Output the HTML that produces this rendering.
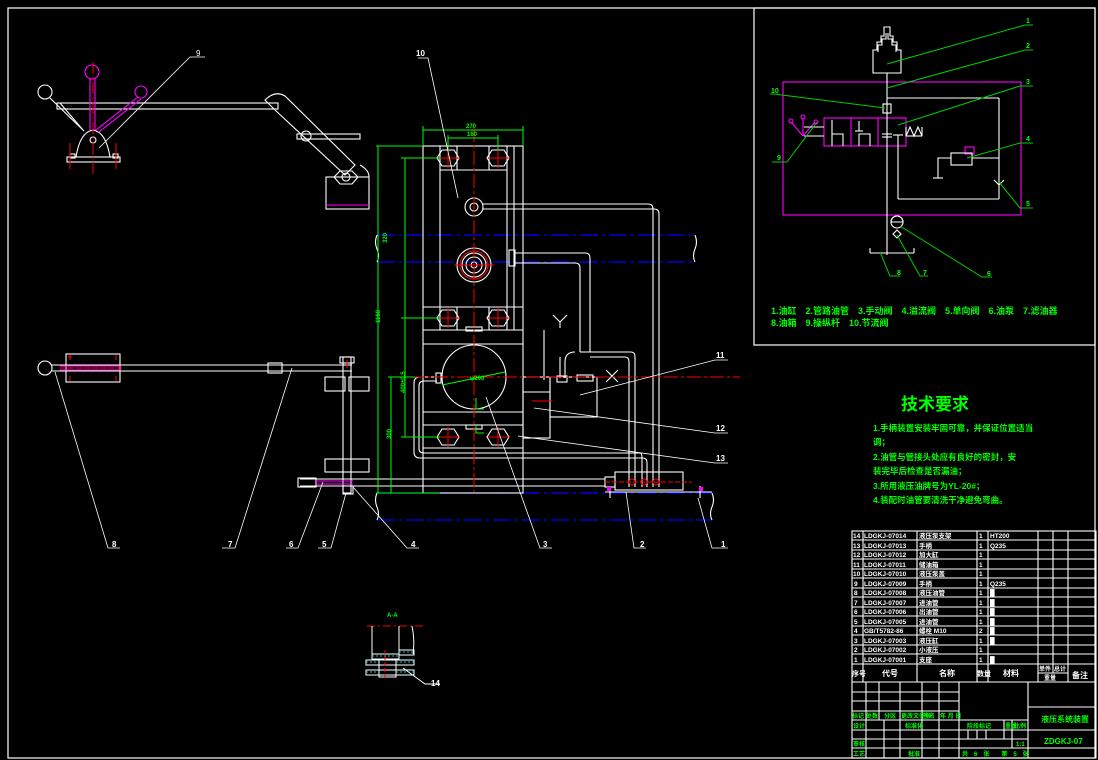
<!DOCTYPE html>
<html><head><meta charset="utf-8"><style>
html,body{margin:0;padding:0;background:#000;}
svg{display:block;}
text{font-family:"Liberation Sans","Noto Sans CJK SC",sans-serif;}
.b text{font-weight:bold;}
</style></head><body>
<svg width="1098" height="760" viewBox="0 0 1098 760" xmlns="http://www.w3.org/2000/svg">
<rect width="1098" height="760" fill="#000"/>
<g fill="none" stroke="#fff" stroke-width="1.2">
<rect x="8" y="8" width="1087" height="750"/>
<rect x="754" y="8" width="341" height="337"/>
</g>

<!-- ============ LEFT TOP MECHANISM ============ -->
<g fill="none" stroke="#fff" stroke-width="1.1">
<rect x="57" y="103" width="221" height="6"/>
<circle cx="45" cy="92" r="7"/>
<line x1="50" y1="98" x2="84" y2="131"/>
<line x1="60" y1="103" x2="83" y2="130"/>
<path d="M76 157 Q80 132 93 130 Q106 132 110 157"/>
<rect x="67" y="157" width="53" height="5"/>
<rect x="70" y="154" width="5" height="4"/><rect x="113" y="154" width="5" height="4"/>
<circle cx="93" cy="140" r="3"/>
<path d="M265 100 Q275 90 285 96 L355 165 L345 175 L275 110 Z"/>
<rect x="297" y="134" width="63" height="5"/>
<circle cx="306" cy="136" r="5"/>
<rect x="326" y="177" width="43" height="32"/>
<polygon points="340,171 352,171 358,177 352,184 340,184 334,177"/>
<circle cx="346" cy="177" r="4"/>
<path d="M360 165 Q369 170 369 177"/>
</g>
<g stroke="#f0f" stroke-width="1.1" fill="none">
<line x1="90" y1="78" x2="90" y2="130"/><line x1="95" y1="78" x2="95" y2="130"/>
<circle cx="92" cy="72" r="7"/>
<line x1="96" y1="130" x2="138" y2="97"/><line x1="99" y1="132" x2="141" y2="99"/>
<circle cx="141" cy="92" r="6"/>
<line x1="326" y1="205" x2="369" y2="205"/>
</g>
<g stroke="#f00" stroke-width="1" fill="none">
<line x1="93" y1="62" x2="93" y2="176" stroke-dasharray="12 3 2 3"/>
<line x1="70" y1="143" x2="70" y2="169"/><line x1="116" y1="143" x2="116" y2="169"/>
</g>
<g stroke="#fff" stroke-width="0.8" fill="none">
<polyline points="99,148 190,57 205,57"/>
</g>
<text x="196" y="56" fill="#fff" font-size="8">9</text>

<!-- ============ LEFT MIDDLE MECHANISM ============ -->
<g fill="none" stroke="#fff" stroke-width="1.1">
<circle cx="45" cy="368" r="7"/>
<rect x="66" y="354" width="54" height="28"/>
<line x1="52" y1="365" x2="352" y2="365"/><line x1="52" y1="371" x2="352" y2="371"/>
<rect x="268" y="363" width="14" height="10"/>
<rect x="343" y="357" width="8" height="136"/>
<rect x="340" y="357" width="14" height="6"/>
<rect x="325" y="377" width="20" height="14"/><rect x="349" y="377" width="20" height="14"/>
<rect x="325" y="459" width="44" height="13"/>
<line x1="300" y1="479" x2="423" y2="479"/><line x1="300" y1="486" x2="423" y2="486"/>
<rect x="298" y="478" width="18" height="9"/>
<rect x="343" y="486" width="10" height="8"/>
</g>
<g stroke="#f0f" stroke-width="1.1" fill="none">
<line x1="60" y1="366" x2="121" y2="366"/><line x1="60" y1="370" x2="121" y2="370"/>
<line x1="315" y1="481" x2="353" y2="481"/><line x1="315" y1="484" x2="353" y2="484"/>
</g>
<g stroke="#f00" stroke-width="1">
<line x1="70" y1="355" x2="70" y2="360"/><line x1="68" y1="357" x2="72" y2="357"/>
<line x1="116" y1="355" x2="116" y2="360"/><line x1="70" y1="376" x2="70" y2="381"/><line x1="116" y1="376" x2="116" y2="381"/>
<line x1="60" y1="368" x2="122" y2="368" stroke-dasharray="6 2"/>
<line x1="347" y1="360" x2="347" y2="368"/>
</g>

<!-- ============ MAIN BODY ============ -->
<g stroke="#00f" stroke-width="1.2" stroke-dasharray="18 4 3 4" fill="none">
<line x1="377" y1="235" x2="695" y2="235"/>
<line x1="377" y1="262" x2="695" y2="262"/>
<line x1="377" y1="493" x2="712" y2="493"/>
<line x1="377" y1="520" x2="712" y2="520"/>
</g>
<g fill="none" stroke="#fff" stroke-width="1.1">
<path d="M377 235 q-3 7 0 14 q3 7 0 13"/>
<path d="M695 235 q3 7 0 14 q-3 7 0 13"/>
<path d="M377 493 q-3 7 0 14 q3 7 0 13"/>
<path d="M712 493 q3 7 0 14 q-3 7 0 13"/>
<rect x="423" y="146" width="100" height="347"/>
<line x1="440" y1="146" x2="440" y2="330"/><line x1="507" y1="146" x2="507" y2="330"/>
<line x1="514" y1="146" x2="514" y2="330"/>
<line x1="440" y1="170" x2="507" y2="170"/>
<line x1="457" y1="146" x2="457" y2="170"/><line x1="489" y1="146" x2="489" y2="170"/>
<line x1="423" y1="307" x2="523" y2="307"/>
<line x1="457" y1="307" x2="457" y2="330"/><line x1="489" y1="307" x2="489" y2="330"/>
<line x1="423" y1="330" x2="523" y2="330"/>
<line x1="423" y1="344" x2="523" y2="344"/>
<line x1="423" y1="412" x2="523" y2="412"/>
<line x1="423" y1="425" x2="523" y2="425"/>
<line x1="423" y1="448" x2="523" y2="448"/>
<line x1="423" y1="453" x2="523" y2="453"/>
<rect x="466" y="327" width="16" height="4"/>
<rect x="466" y="425" width="16" height="4"/>
<polygon points="442,150 454,150 459,158 454,166 442,166 437,158"/>
<polygon points="492,150 504,150 509,158 504,166 492,166 487,158"/>
<polygon points="442,310 454,310 459,318 454,326 442,326 437,318"/>
<polygon points="492,310 504,310 509,318 504,326 492,326 487,318"/>
<polygon points="442,429 454,429 459,437 454,445 442,445 437,437"/>
<polygon points="492,429 504,429 509,437 504,445 492,445 487,437"/>
<circle cx="474" cy="207" r="9"/><circle cx="474" cy="207" r="4"/>
<circle cx="474" cy="265" r="17"/><circle cx="474" cy="265" r="12"/><circle cx="474" cy="265" r="8"/><circle cx="474" cy="265" r="3"/>
<circle cx="474" cy="377" r="32"/>
<path d="M483 204 H648 Q653 204 653 209 V487"/>
<path d="M483 209 H654 Q659 209 659 214 V487"/>
<rect x="509" y="250" width="6" height="16"/>
<path d="M515 253 H585 Q590 253 590 258 V352"/>
<path d="M515 263 H575 Q580 263 580 268 V352"/>
<path d="M580 352 H631 Q635 352 635 357 V487"/>
<path d="M590 357 H625 Q629 357 629 362 V487"/>
<path d="M565 378 V362 Q565 352 575 352"/>
<path d="M560 378 V357"/>
<rect x="550" y="377" width="47" height="40"/>
<rect x="523" y="377" width="27" height="61"/>
<line x1="523" y1="392" x2="550" y2="392"/>
<rect x="577" y="375" width="16" height="6"/>
<rect x="557" y="376" width="10" height="6"/>
<line x1="544" y1="330" x2="544" y2="380"/>
<polyline points="553,315 560,322 567,315"/><line x1="560" y1="322" x2="560" y2="328"/>
<line x1="606" y1="370" x2="618" y2="382"/><line x1="618" y1="370" x2="606" y2="382"/>
<path d="M437 377 H420 Q414 377 414 383 V452 Q414 458 420 458 H643 Q647 458 647 463 V487"/>
<path d="M437 381 H424 Q419 381 419 386 V449 Q419 453 424 453 H640 Q642 453 642 458 V487"/>
<rect x="436" y="373" width="5" height="10"/>
<line x1="423" y1="479" x2="605" y2="479"/><line x1="423" y1="486" x2="605" y2="486"/>
<rect x="615" y="472" width="68" height="18"/>
<rect x="605" y="477" width="10" height="10"/>
<line x1="610" y1="490" x2="610" y2="498"/><line x1="700" y1="486" x2="700" y2="498"/>
<line x1="605" y1="492" x2="712" y2="492"/>
</g>
<g stroke="#f00" stroke-width="1" fill="none">
<line x1="474" y1="128" x2="474" y2="492" stroke-dasharray="14 3 3 3"/>
<line x1="388" y1="377" x2="740" y2="377" stroke-dasharray="14 3 3 3"/>
<line x1="438" y1="158" x2="460" y2="158"/><line x1="448" y1="148" x2="448" y2="168"/>
<line x1="488" y1="158" x2="510" y2="158"/><line x1="498" y1="148" x2="498" y2="168"/>
<line x1="438" y1="318" x2="460" y2="318"/><line x1="448" y1="308" x2="448" y2="328"/>
<line x1="488" y1="318" x2="510" y2="318"/><line x1="498" y1="308" x2="498" y2="328"/>
<line x1="438" y1="437" x2="460" y2="437"/><line x1="448" y1="427" x2="448" y2="447"/>
<line x1="488" y1="437" x2="510" y2="437"/><line x1="498" y1="427" x2="498" y2="447"/>
<line x1="454" y1="265" x2="494" y2="265"/>
<circle cx="474" cy="265" r="14"/>
<line x1="532" y1="401" x2="552" y2="401"/>
<line x1="605" y1="482" x2="692" y2="482" stroke-dasharray="5 2"/>
<circle cx="632" cy="482" r="3"/><circle cx="644" cy="482" r="3"/><circle cx="656" cy="482" r="3"/>
</g>
<g fill="#f0f"><rect x="607" y="487" width="4" height="4"/><rect x="699" y="487" width="4" height="4"/></g>
<g stroke="#0f0" stroke-width="1" fill="none">
<line x1="423" y1="130" x2="523" y2="130"/><line x1="423" y1="126" x2="423" y2="146"/><line x1="523" y1="126" x2="523" y2="146"/>
<line x1="448" y1="138" x2="498" y2="138"/><line x1="448" y1="135" x2="448" y2="150"/><line x1="498" y1="135" x2="498" y2="150"/>
<line x1="378" y1="146" x2="378" y2="493"/><line x1="376" y1="146" x2="423" y2="146"/><line x1="376" y1="493" x2="440" y2="493"/>
<line x1="405" y1="158" x2="405" y2="437"/><line x1="401" y1="158" x2="440" y2="158"/><line x1="401" y1="318" x2="440" y2="318"/><line x1="401" y1="437" x2="440" y2="437"/>
<line x1="391" y1="377" x2="391" y2="493"/><line x1="388" y1="377" x2="415" y2="377"/>
<line x1="442" y1="385" x2="505" y2="372"/>
<polyline points="476,398 476,409 484,409"/><polyline points="476,424 476,433 484,433"/>
</g>
<g fill="#0f0" font-size="6" font-weight="bold">
<text x="466" y="128">270</text><text x="467" y="136">160</text>
<text x="380" y="244" transform="rotate(-90 383 240)">320</text>
<text x="372" y="325" transform="rotate(-90 375 320)">1160</text>
<text x="397" y="395" transform="rotate(-90 400 390)">400±0.5</text>
<text x="384" y="440" transform="rotate(-90 387 436)">300</text>
<text x="470" y="380">φ200</text>
</g>

<g stroke="#fff" stroke-width="0.8" fill="none">
<polyline points="458,198 428,58 418,58"/>
<polyline points="55,372 108,548 120,548"/>
<polyline points="292,368 235,548 222,548"/>
<polyline points="323,482 298,548 286,548"/>
<polyline points="346,493 331,548 318,548"/>
<polyline points="353,487 407,548 419,548"/>
<polyline points="486,397 540,548 552,548"/>
<polyline points="626,492 634,548 646,548"/>
<polyline points="698,498 712,548 728,548"/>
<polyline points="580,395 715,360 728,360"/>
<polyline points="534,408 715,433 728,433"/>
<polyline points="518,436 715,463 728,463"/>
</g>
<g fill="#fff" font-size="8" font-weight="bold">
<text x="416" y="56">10</text>
<text x="112" y="547">8</text><text x="228" y="547">7</text><text x="289" y="547">6</text><text x="322" y="547">5</text>
<text x="411" y="547">4</text><text x="543" y="547">3</text><text x="640" y="547">2</text><text x="721" y="547">1</text>
<text x="716" y="358">11</text><text x="716" y="431">12</text><text x="716" y="461">13</text>
<text x="431" y="686">14</text>
</g>

<g>
<text x="387" y="617" fill="#0f0" font-size="6" font-weight="bold">A-A</text>
<line x1="367" y1="626" x2="423" y2="626" stroke="#f00" stroke-dasharray="8 3 2 3"/>
<g stroke="#fff" fill="none" stroke-width="1">
<line x1="372" y1="626" x2="372" y2="654"/><line x1="399" y1="626" x2="399" y2="654"/>
<path d="M412 626 q3 14 1 28"/>
<rect x="372" y="654" width="27" height="5"/><rect x="399" y="650" width="15" height="5"/>
<rect x="366" y="660" width="48" height="5"/><rect x="366" y="670" width="48" height="5"/>
<rect x="379" y="659" width="17" height="18"/>
<polyline points="403,668 425,684 440,684"/>
</g>
<g stroke="#0ff" stroke-width="0.8" stroke-dasharray="2 2"><line x1="372" y1="656" x2="399" y2="656"/><line x1="399" y1="652" x2="414" y2="652"/><line x1="366" y1="662" x2="379" y2="662"/><line x1="366" y1="672" x2="379" y2="672"/><line x1="396" y1="662" x2="414" y2="662"/><line x1="396" y1="672" x2="414" y2="672"/></g>
<line x1="385" y1="650" x2="385" y2="680" stroke="#f00" stroke-dasharray="4 2"/>
</g>

<!-- ============ RIGHT HYDRAULIC SCHEMATIC ============ -->
<g fill="none" stroke="#f0f" stroke-width="1.1">
<rect x="783" y="82" width="238" height="133"/>
<rect x="824" y="118" width="82" height="28"/>
<line x1="851" y1="118" x2="851" y2="146"/><line x1="878" y1="118" x2="878" y2="146"/>
<rect x="965" y="147" width="9" height="7"/>
<line x1="791" y1="122" x2="803" y2="136"/><line x1="803" y1="118" x2="803" y2="136"/><line x1="815" y1="122" x2="803" y2="136"/>
<circle cx="791" cy="121" r="2"/><circle cx="803" cy="117" r="2"/><circle cx="816" cy="122" r="2"/>
</g>
<g fill="none" stroke="#fff" stroke-width="1.1">
<path d="M873 73 V50 H877 V42 H881 V36 H884 V27 H890 V36 H893 V42 H897 V50 H901 V73 Z"/>
<path d="M878 52 V45 H882 V39 H886 V33 M888 33 V39 H892 V45 H896 V52"/>
<line x1="887" y1="73" x2="887" y2="255"/>
<line x1="887" y1="98" x2="999" y2="98"/><line x1="999" y1="98" x2="999" y2="199"/>
<line x1="898" y1="135" x2="898" y2="199"/><line x1="898" y1="199" x2="999" y2="199"/>
<rect x="883" y="104" width="8" height="9"/>
<line x1="804" y1="127" x2="824" y2="127"/><line x1="804" y1="136" x2="824" y2="136"/>
<polyline points="832,120 832,146"/><polyline points="832,134 843,134 843,146"/>
<polyline points="859,121 859,131"/><line x1="855" y1="131" x2="863" y2="131"/><polyline points="859,146 859,134 870,134 870,146"/>
<line x1="882" y1="134" x2="892" y2="134"/><line x1="882" y1="137" x2="892" y2="137"/>
<line x1="893" y1="135" x2="903" y2="135"/>
<polyline points="906,127 906,136 910,127 914,136 918,127 922,136 922,127"/>
<line x1="906" y1="136" x2="922" y2="136"/>
<rect x="951" y="153" width="21" height="12"/>
<line x1="972" y1="158" x2="999" y2="158"/>
<polyline points="951,158 938,158 938,178"/><line x1="933" y1="178" x2="943" y2="178"/>
<polyline points="994,180 999,185 1004,180"/>
<path d="M891 222 a6 6 0 1 1 12 0 z"/><circle cx="897" cy="222" r="6"/>
<polygon points="897,230 901,234 897,238 893,234"/>
<line x1="870" y1="253" x2="914" y2="253"/><line x1="870" y1="253" x2="870" y2="248"/><line x1="914" y1="253" x2="914" y2="248"/>
</g>
<g stroke="#0c0" stroke-width="1" fill="none">
<polyline points="887,64 1025,25 1033,25"/>
<polyline points="887,88 1025,50 1033,50"/>
<polyline points="898,125 1020,86 1033,86"/>
<polyline points="967,158 1020,143 1033,143"/>
<polyline points="999,182 1020,208 1033,208"/>
<polyline points="900,226 982,277 992,277"/>
<polyline points="897,235 920,276 928,276"/>
<polyline points="880,252 890,276 900,276"/>
<polyline points="787,162 817,122"/><polyline points="787,162 772,162"/>
<polyline points="885,108 774,94 770,94"/>
</g>
<g fill="#0f0" font-size="7" font-weight="bold">
<text x="1026" y="23">1</text><text x="1026" y="48">2</text><text x="1026" y="84">3</text><text x="1026" y="141">4</text>
<text x="1026" y="206">5</text><text x="987" y="276">6</text><text x="923" y="275">7</text><text x="897" y="275">8</text>
<text x="777" y="160">9</text><text x="771" y="93">10</text>
</g>
<g fill="#0f0" font-size="9" font-weight="bold">
<text x="771" y="314">1.油缸　2.管路油管　3.手动阀　4.溢流阀　5.单向阀　6.油泵　7.滤油器</text>
<text x="771" y="326">8.油箱　9.操纵杆　10.节流阀</text>
</g>

<!-- ============ TECH REQUIREMENTS ============ -->
<g fill="#0f0" class="b">
<text x="901" y="410" font-size="17">技术要求</text>
<g font-size="8.5">
<text x="873" y="431">1.手柄装置安装牢固可靠，并保证位置适当</text>
<text x="873" y="445">调；</text>
<text x="873" y="460">2.油管与管接头处应有良好的密封，安</text>
<text x="873" y="474">装完毕后检查是否漏油；</text>
<text x="873" y="489">3.所用液压油牌号为YL-20#；</text>
<text x="873" y="503">4.装配时油管要清洗干净避免弯曲。</text>
</g>
</g>

<!-- ============ PARTS TABLE ============ -->
<g stroke="#fff" stroke-width="1.1" fill="none">
<rect x="852" y="531" width="244" height="227"/>
<line x1="852" y1="540" x2="1096" y2="540"/><line x1="852" y1="550" x2="1096" y2="550"/>
<line x1="852" y1="559" x2="1096" y2="559"/><line x1="852" y1="569" x2="1096" y2="569"/>
<line x1="852" y1="578" x2="1096" y2="578"/><line x1="852" y1="588" x2="1096" y2="588"/>
<line x1="852" y1="597" x2="1096" y2="597"/><line x1="852" y1="607" x2="1096" y2="607"/>
<line x1="852" y1="616" x2="1096" y2="616"/><line x1="852" y1="626" x2="1096" y2="626"/>
<line x1="852" y1="635" x2="1096" y2="635"/><line x1="852" y1="645" x2="1096" y2="645"/>
<line x1="852" y1="654" x2="1096" y2="654"/><line x1="852" y1="664" x2="1096" y2="664"/>
<line x1="852" y1="682" x2="1096" y2="682"/>
<line x1="863" y1="531" x2="863" y2="682"/><line x1="917" y1="531" x2="917" y2="682"/>
<line x1="977" y1="531" x2="977" y2="682"/><line x1="988" y1="531" x2="988" y2="682"/>
<line x1="1038" y1="531" x2="1038" y2="682"/><line x1="1053" y1="531" x2="1053" y2="673"/>
<line x1="1068" y1="531" x2="1068" y2="682"/><line x1="1038" y1="673" x2="1068" y2="673"/>
<line x1="852" y1="692" x2="959" y2="692"/><line x1="852" y1="701" x2="959" y2="701"/>
<line x1="852" y1="711" x2="959" y2="711"/><line x1="852" y1="720" x2="1028" y2="720"/>
<line x1="852" y1="730" x2="959" y2="730"/><line x1="852" y1="739" x2="959" y2="739"/>
<line x1="852" y1="748" x2="1096" y2="748"/>
<line x1="959" y1="730" x2="1028" y2="730"/><line x1="959" y1="739" x2="1028" y2="739"/>
<line x1="866" y1="682" x2="866" y2="758"/><line x1="879" y1="682" x2="879" y2="720"/>
<line x1="884" y1="720" x2="884" y2="758"/>
<line x1="900" y1="682" x2="900" y2="758"/><line x1="922" y1="682" x2="922" y2="758"/>
<line x1="939" y1="682" x2="939" y2="758"/>
<line x1="959" y1="682" x2="959" y2="758"/><line x1="1028" y1="682" x2="1028" y2="758"/>
<line x1="1028" y1="707" x2="1096" y2="707"/><line x1="1028" y1="730" x2="1096" y2="730"/>
<line x1="1004" y1="720" x2="1004" y2="739"/><line x1="1012" y1="720" x2="1012" y2="748"/>
<line x1="968" y1="730" x2="968" y2="739"/><line x1="977" y1="730" x2="977" y2="739"/><line x1="986" y1="730" x2="986" y2="739"/>
</g>
<g fill="#fff" font-size="6.5" class="b">
<text x="864" y="538">LDGKJ-07014</text><text x="919" y="538">液压泵支架</text><text x="979" y="538">1</text><text x="990" y="538">HT200</text>
<text x="864" y="548">LDGKJ-07013</text><text x="919" y="548">手柄</text><text x="979" y="548">1</text><text x="990" y="548">Q235</text>
<text x="864" y="557">LDGKJ-07012</text><text x="919" y="557">加大缸</text><text x="979" y="557">1</text>
<text x="864" y="567">LDGKJ-07011</text><text x="919" y="567">储油箱</text><text x="979" y="567">1</text>
<text x="864" y="576">LDGKJ-07010</text><text x="919" y="576">液压泵盖</text><text x="979" y="576">1</text>
<text x="864" y="586">LDGKJ-07009</text><text x="919" y="586">手柄</text><text x="979" y="586">1</text><text x="990" y="586">Q235</text>
<text x="864" y="595">LDGKJ-07008</text><text x="919" y="595">液压油管</text><text x="979" y="595">1</text><text x="990" y="595">█</text>
<text x="864" y="605">LDGKJ-07007</text><text x="919" y="605">进油管</text><text x="979" y="605">1</text><text x="990" y="605">█</text>
<text x="864" y="614">LDGKJ-07006</text><text x="919" y="614">出油管</text><text x="979" y="614">1</text><text x="990" y="614">█</text>
<text x="864" y="624">LDGKJ-07005</text><text x="919" y="624">进油管</text><text x="979" y="624">1</text><text x="990" y="624">█</text>
<text x="864" y="633">GB/T5782-86</text><text x="919" y="633">螺栓 M10</text><text x="979" y="633">2</text><text x="990" y="633">█</text>
<text x="864" y="643">LDGKJ-07003</text><text x="919" y="643">液压缸</text><text x="979" y="643">1</text><text x="990" y="643">█</text>
<text x="864" y="652">LDGKJ-07002</text><text x="919" y="652">小液压</text><text x="979" y="652">1</text>
<text x="864" y="662">LDGKJ-07001</text><text x="919" y="662">支座</text><text x="979" y="662">1</text><text x="990" y="662">█</text>
<text x="853" y="538">14</text><text x="853" y="548">13</text><text x="853" y="557">12</text><text x="853" y="567">11</text><text x="853" y="576">10</text>
<text x="854" y="586">9</text><text x="854" y="595">8</text><text x="854" y="605">7</text><text x="854" y="614">6</text><text x="854" y="624">5</text><text x="854" y="633">4</text><text x="854" y="643">3</text><text x="854" y="652">2</text><text x="854" y="662">1</text>
<text x="852" y="676" font-size="7">序号</text><text x="882" y="676" font-size="8">代号</text><text x="939" y="676" font-size="8">名称</text>
<text x="977" y="676" font-size="7">数量</text><text x="1003" y="676" font-size="8">材料</text>
<text x="1039" y="671" font-size="6">单件</text><text x="1054" y="671" font-size="6">总计</text><text x="1044" y="680" font-size="6">重量</text>
<text x="1072" y="678" font-size="8">备注</text>
</g>
<g fill="#0f0" font-size="6" class="b">
<text x="852" y="718">标记</text><text x="866" y="718">处数</text><text x="884" y="718">分区</text><text x="901" y="718">更改文件号</text><text x="923" y="718">签名</text><text x="940" y="718">年 月 日</text>
<text x="853" y="728">设计</text><text x="905" y="728">标准化</text>
<text x="853" y="746">审核</text><text x="853" y="756">工艺</text><text x="908" y="756">批准</text>
<text x="967" y="728">阶段标记</text><text x="1005" y="728">重量</text><text x="1014" y="728">比例</text>
<text x="1016" y="746">1:1</text>
<text x="962" y="756">共　6　张　　第　5　张</text>
<text x="1041" y="722" font-size="8">液压系统装置</text>
<text x="1044" y="744" font-size="8">ZDGKJ-07</text>
</g>
</svg>
</body></html>
